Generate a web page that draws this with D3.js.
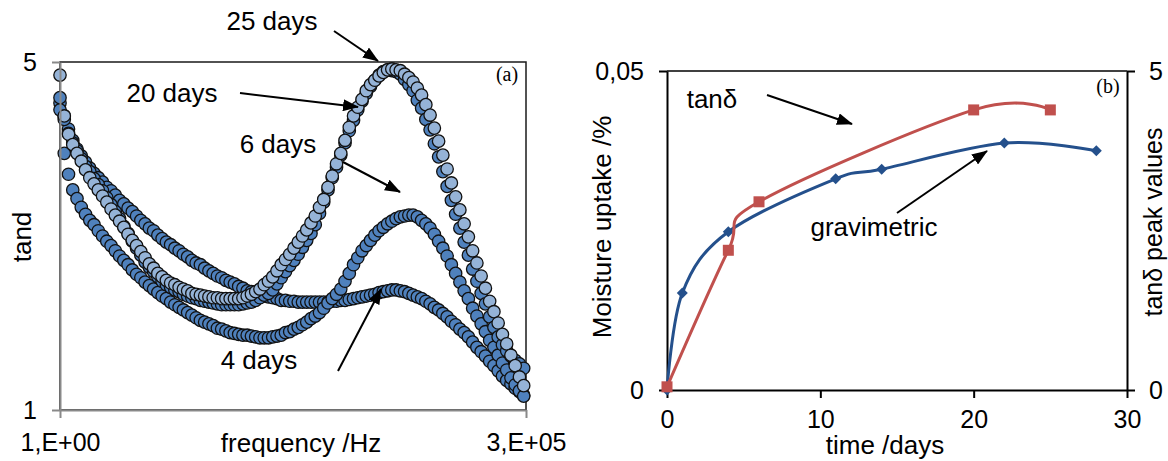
<!DOCTYPE html>
<html>
<head>
<meta charset="utf-8">
<title></title>
<script src="https://d3js.org/d3.v7.min.js" charset="utf-8"></script>
<style type="text/css">
	body {
		margin: 0;
		background: #fff;
	}
	svg text {
		font-family: "Liberation Sans", Arial, sans-serif;
		fill: #000;
	}
	svg text.serif {
		font-family: "Liberation Serif", "Times New Roman", serif;
	}
</style>
</head>
<body>
<script type="text/javascript">
	var w = 1168;
	var h = 461;

	// ---- (a) tand vs frequency, sweep of 20 points per decade from 1 Hz
	var freqs = d3.range(110).map(function (i) { return Math.pow(10, i / 20); });

	var tand4 = [4.53,4.38,4.23,4.10,4.00,3.92,3.85,3.78,3.72,3.67,
		3.62,3.56,3.52,3.47,3.41,3.37,3.32,3.28,3.23,3.18,
		3.14,3.09,3.06,3.01,2.97,2.93,2.90,2.86,2.83,2.79,
		2.76,2.72,2.69,2.67,2.63,2.60,2.57,2.54,2.52,2.49,
		2.47,2.45,2.42,2.40,2.37,2.36,2.34,2.32,2.31,2.30,
		2.29,2.28,2.26,2.26,2.25,2.25,2.24,2.24,2.24,2.24,
		2.24,2.24,2.24,2.24,2.25,2.25,2.26,2.26,2.27,2.28,
		2.29,2.30,2.31,2.32,2.33,2.35,2.36,2.37,2.38,2.38,
		2.37,2.36,2.34,2.32,2.30,2.28,2.25,2.22,2.18,2.15,
		2.11,2.07,2.02,1.98,1.93,1.89,1.84,1.78,1.72,1.67,
		1.62,1.56,1.51,1.45,1.39,1.34,1.30,1.25,1.21,1.17];

	var tand6 = [4.45,3.95,3.71,3.53,3.43,3.33,3.25,3.18,3.13,3.06,
		3.00,2.94,2.89,2.83,2.77,2.72,2.67,2.61,2.56,2.52,
		2.47,2.43,2.39,2.35,2.31,2.28,2.24,2.21,2.18,2.15,
		2.12,2.09,2.06,2.03,2.01,1.99,1.97,1.94,1.93,1.91,
		1.89,1.88,1.87,1.86,1.86,1.85,1.84,1.83,1.83,1.83,
		1.84,1.85,1.86,1.89,1.90,1.93,1.95,1.98,2.01,2.05,
		2.08,2.12,2.17,2.23,2.28,2.33,2.39,2.48,2.57,2.67,
		2.75,2.83,2.89,2.95,3.01,3.06,3.10,3.14,3.17,3.20,
		3.22,3.23,3.24,3.24,3.22,3.18,3.14,3.09,3.02,2.94,
		2.86,2.77,2.67,2.57,2.47,2.37,2.28,2.17,2.08,1.99,
		1.90,1.80,1.72,1.63,1.54,1.46,1.37,1.29,1.22,1.16];

	var tand20 = [4.59,4.34,4.18,4.07,3.98,3.89,3.80,3.74,3.66,3.59,
		3.52,3.44,3.36,3.28,3.20,3.11,3.03,2.94,2.86,2.78,
		2.70,2.64,2.59,2.53,2.48,2.44,2.41,2.38,2.36,2.33,
		2.31,2.29,2.28,2.26,2.25,2.24,2.23,2.22,2.21,2.21,
		2.21,2.21,2.21,2.22,2.23,2.24,2.26,2.29,2.32,2.34,
		2.38,2.45,2.52,2.59,2.66,2.72,2.79,2.87,2.95,3.03,
		3.13,3.26,3.39,3.53,3.67,3.79,3.93,4.07,4.21,4.33,
		4.45,4.55,4.64,4.72,4.79,4.85,4.89,4.91,4.90,4.89,
		4.86,4.80,4.74,4.67,4.56,4.47,4.34,4.22,4.06,3.91,
		3.74,3.57,3.41,3.25,3.09,2.93,2.78,2.62,2.48,2.34,
		2.22,2.07,1.95,1.84,1.75,1.68,1.62,1.57,1.53,1.48];

	var tand25 = [4.85,4.38,4.17,4.05,3.95,3.86,3.76,3.67,3.60,3.53,
		3.46,3.39,3.31,3.24,3.17,3.10,3.02,2.95,2.89,2.82,
		2.75,2.68,2.63,2.57,2.53,2.49,2.46,2.44,2.41,2.39,
		2.37,2.34,2.33,2.32,2.31,2.30,2.29,2.29,2.28,2.28,
		2.28,2.28,2.28,2.29,2.31,2.33,2.36,2.39,2.44,2.48,
		2.53,2.60,2.67,2.73,2.79,2.86,2.93,3.00,3.07,3.15,
		3.23,3.33,3.42,3.56,3.69,3.83,3.95,4.10,4.25,4.38,
		4.48,4.57,4.67,4.74,4.79,4.84,4.88,4.91,4.92,4.91,
		4.90,4.86,4.82,4.77,4.70,4.62,4.51,4.39,4.24,4.09,
		3.93,3.77,3.61,3.45,3.30,3.14,2.99,2.83,2.69,2.54,
		2.40,2.25,2.13,2.00,1.87,1.76,1.63,1.51,1.38,1.28];

	var xTicksA = [1, 3e5];
	var xTickLabelsA = ['1,E+00', '3,E+05'];
	var yTicksA = [1, 5];

	// ---- (b) moisture uptake and tand peak vs time
	var gravDays = [0, 1, 4, 11, 14, 22, 28];
	var gravUptake = [0, 0.0152, 0.0248, 0.0331, 0.0346, 0.0387, 0.0375];
	var tanDays = [0, 4, 6, 20, 25];
	var tanPeak = [0.05, 2.19, 2.95, 4.39, 4.39];
	var xTicksB = [0, 10, 20, 30];
	var yTicksB = [0, 0.05];
	var y2TicksB = [0, 5];

	var comma = d3.formatLocale({decimal: ',', thousands: '.', grouping: [3], currency: ['', '']});

	var svg = d3.select('body')
		.append('svg')
		.attr('width', w)
		.attr('height', h);

	svg.append('defs')
		.append('marker')
		.attr('id', 'head')
		.attr('viewBox', '0 0 16 12')
		.attr('markerUnits', 'userSpaceOnUse')
		.attr('markerWidth', 16)
		.attr('markerHeight', 12)
		.attr('refX', 15)
		.attr('refY', 6)
		.attr('orient', 'auto')
		.append('path')
		.attr('d', 'M0,0L16,6L0,12Z')
		.attr('fill', '#000');

	function styleAxis(g, color, size) {
		g.attr('font-family', null).attr('font-size', size);
		g.select('.domain').attr('stroke', color).attr('stroke-width', 2);
		g.selectAll('.tick line').attr('stroke', color).attr('stroke-width', 2);
		g.selectAll('.tick text').attr('fill', '#000');
	}

	// ================= panel (a)
	var xA = d3.scaleLog().domain([1, 3e5]).range([60, 526]);
	var yA = d3.scaleLinear().domain([1, 5]).range([410, 62]);

	svg.append('rect')
		.attr('x', 60).attr('y', 62)
		.attr('width', 466).attr('height', 348)
		.attr('fill', 'none')
		.attr('stroke', '#1a1a1a')
		.attr('stroke-width', 1.5);

	var series = [
		{vals: tand4, fill: '#4F81BD'},
		{vals: tand6, fill: '#4F81BD'},
		{vals: tand20, fill: '#4F81BD'},
		{vals: tand25, fill: '#95B3D7'}
	];

	series.forEach(function (s) {
		svg.append('g')
			.selectAll('circle')
			.data(s.vals)
			.enter()
			.append('circle')
			.attr('cx', function (d, i) { return xA(freqs[i]); })
			.attr('cy', function (d) { return yA(d); })
			.attr('r', 6.2)
			.attr('fill', s.fill)
			.attr('stroke', '#111')
			.attr('stroke-width', 1.3);
	});

	svg.append('g')
		.attr('transform', 'translate(0,410)')
		.call(d3.axisBottom(xA).tickValues(xTicksA)
			.tickFormat(function (d, i) { return xTickLabelsA[i]; })
			.tickSize(8).tickPadding(15).tickSizeOuter(0))
		.call(styleAxis, '#898989', 25);

	svg.append('g')
		.attr('transform', 'translate(60,0)')
		.call(d3.axisLeft(yA).tickValues(yTicksA)
			.tickFormat(d3.format('d'))
			.tickSize(8).tickPadding(15).tickSizeOuter(0))
		.call(styleAxis, '#898989', 25);

	svg.append('text')
		.text('frequency /Hz')
		.attr('x', 301).attr('y', 452)
		.attr('text-anchor', 'middle')
		.style('font-size', '26px');

	svg.append('text')
		.text('tand')
		.attr('transform', 'translate(31,237) rotate(-90)')
		.attr('text-anchor', 'middle')
		.style('font-size', '26px');

	svg.append('text')
		.attr('class', 'serif')
		.text('(a)')
		.attr('x', 507).attr('y', 81)
		.attr('text-anchor', 'middle')
		.style('font-size', '20px');

	// ================= panel (b)
	var xB = d3.scaleLinear().domain([0, 30]).range([667, 1127]);
	var yB = d3.scaleLinear().domain([0, 0.05]).range([390, 71]);
	var y2B = d3.scaleLinear().domain([0, 5]).range([390, 71]);

	svg.append('line')
		.attr('x1', 667).attr('x2', 1127)
		.attr('y1', 71).attr('y2', 71)
		.attr('stroke', '#000')
		.attr('stroke-width', 1.5);

	svg.append('g')
		.attr('transform', 'translate(0,390)')
		.call(d3.axisBottom(xB).tickValues(xTicksB)
			.tickSize(8).tickPadding(12).tickSizeOuter(0))
		.call(styleAxis, '#000', 25);

	svg.append('g')
		.attr('transform', 'translate(667,0)')
		.call(d3.axisLeft(yB).tickValues(yTicksB)
			.tickFormat(function (d) { return d === 0 ? '0' : comma.format('.2f')(d); })
			.tickSize(8).tickPadding(15).tickSizeOuter(0))
		.call(styleAxis, '#000', 25);

	svg.append('g')
		.attr('transform', 'translate(1127,0)')
		.call(d3.axisRight(y2B).tickValues(y2TicksB)
			.tickFormat(d3.format('d'))
			.tickSize(8).tickPadding(14).tickSizeOuter(0))
		.call(styleAxis, '#000', 25);

	var line = d3.line().curve(d3.curveCardinal.tension(0));

	var redPts = tanDays.map(function (d, i) { return [xB(d), y2B(tanPeak[i])]; });
	var bluePts = gravDays.map(function (d, i) { return [xB(d), yB(gravUptake[i])]; });

	svg.append('path')
		.attr('d', line(bluePts))
		.attr('fill', 'none')
		.attr('stroke', '#24508C')
		.attr('stroke-width', 3);

	svg.append('g')
		.selectAll('path')
		.data(bluePts)
		.enter()
		.append('path')
		.attr('d', 'M0,-5.5L5.5,0L0,5.5L-5.5,0Z')
		.attr('transform', function (d) { return 'translate(' + d[0] + ',' + d[1] + ')'; })
		.attr('fill', '#24508C');

	svg.append('path')
		.attr('d', line(redPts))
		.attr('fill', 'none')
		.attr('stroke', '#C0504D')
		.attr('stroke-width', 3);

	svg.append('g')
		.selectAll('rect')
		.data(redPts)
		.enter()
		.append('rect')
		.attr('x', function (d) { return d[0] - 5.5; })
		.attr('y', function (d) { return d[1] - 5.5; })
		.attr('width', 11).attr('height', 11)
		.attr('fill', '#C0504D');

	svg.append('text')
		.text('time /days')
		.attr('x', 885).attr('y', 454)
		.attr('text-anchor', 'middle')
		.style('font-size', '26px');

	svg.append('text')
		.text('Moisture uptake /%')
		.attr('transform', 'translate(611,227) rotate(-90)')
		.attr('text-anchor', 'middle')
		.style('font-size', '26px');

	svg.append('text')
		.text('tanδ peak values')
		.attr('transform', 'translate(1162,222) rotate(-90)')
		.attr('text-anchor', 'middle')
		.style('font-size', '25px');

	svg.append('text')
		.attr('class', 'serif')
		.text('(b)')
		.attr('x', 1108).attr('y', 93)
		.attr('text-anchor', 'middle')
		.style('font-size', '20px');

	// ================= annotations
	var notes = [
		{t: '25 days', x: 272, y: 30, a: [334, 31, 378, 61]},
		{t: '20 days', x: 172, y: 102, a: [240, 93, 358, 107]},
		{t: '6 days', x: 278, y: 153, a: [343, 162, 400, 192]},
		{t: '4 days', x: 259, y: 369, a: [338, 371, 381, 289]},
		{t: 'tanδ', x: 712, y: 108, a: [767, 95, 852, 124]},
		{t: 'gravimetric', x: 874, y: 236, a: [897, 213, 987, 151]}
	];

	var ann = svg.append('g')
		.selectAll('g')
		.data(notes)
		.enter()
		.append('g');

	ann.append('text')
		.text(function (d) { return d.t; })
		.attr('x', function (d) { return d.x; })
		.attr('y', function (d) { return d.y; })
		.attr('text-anchor', 'middle')
		.style('font-size', '26px');

	ann.append('line')
		.attr('x1', function (d) { return d.a[0]; })
		.attr('y1', function (d) { return d.a[1]; })
		.attr('x2', function (d) { return d.a[2]; })
		.attr('y2', function (d) { return d.a[3]; })
		.attr('stroke', '#000')
		.attr('stroke-width', 2)
		.attr('marker-end', 'url(#head)');
</script>
</body>
</html>
